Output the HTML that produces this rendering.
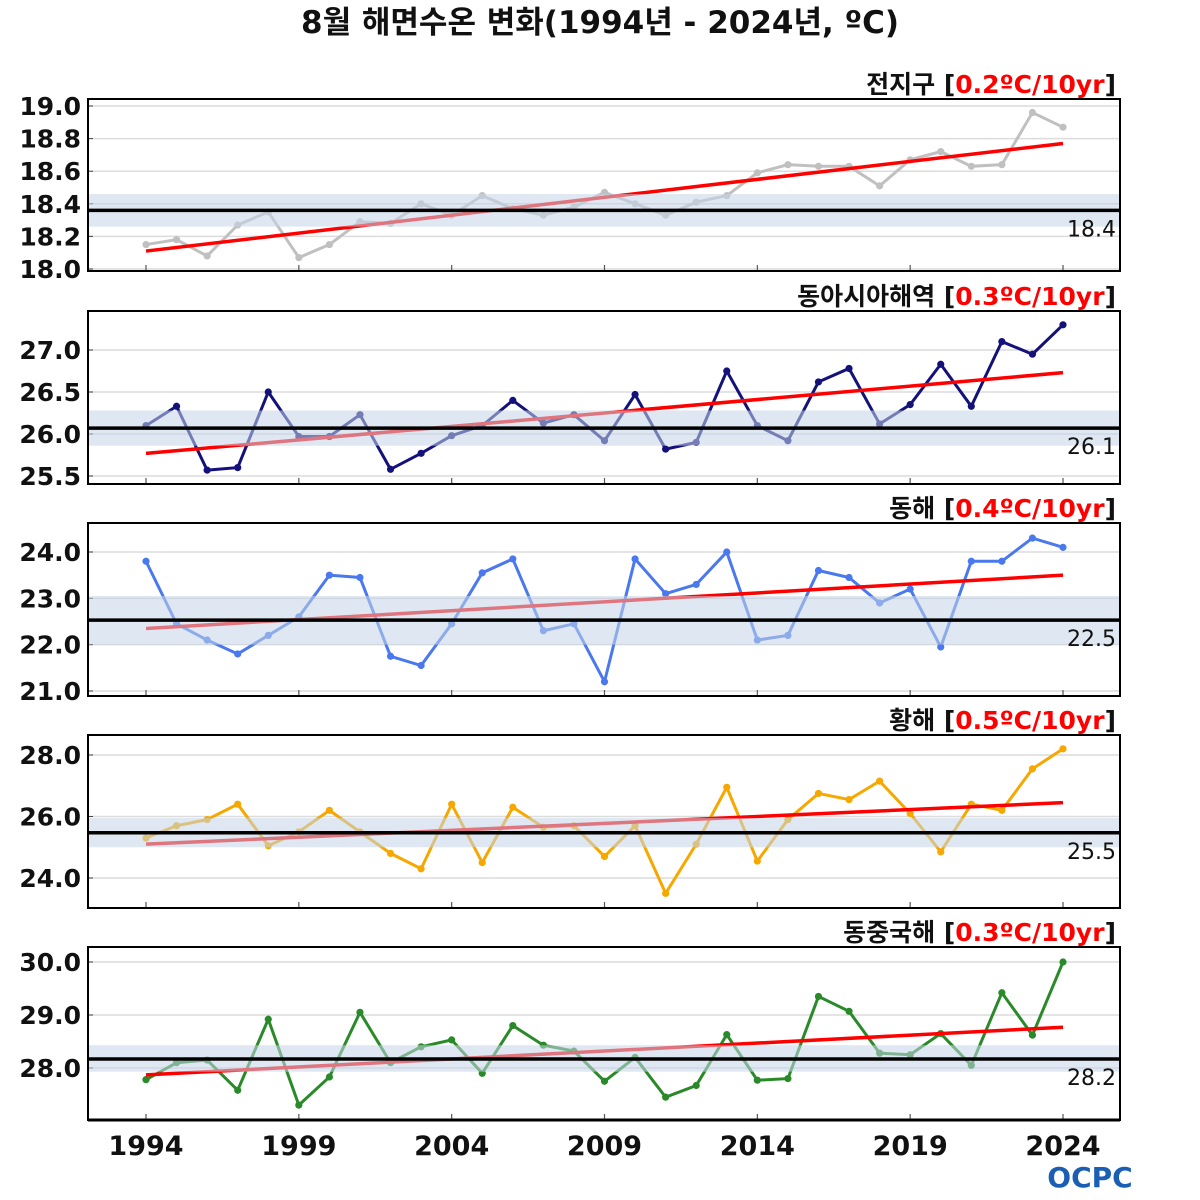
<!DOCTYPE html>
<html><head><meta charset="utf-8">
<style>
body{margin:0;background:#fff;}
svg{display:block;font-family:"DejaVu Sans","Noto Sans CJK KR",sans-serif;}
</style></head>
<body>
<svg id="chart" width="1200" height="1200" viewBox="0 0 1200 1200">
<text x="600" y="33" text-anchor="middle" font-size="31" font-weight="bold" fill="#111">8월 해면수온 변화(1994년 - 2024년, ºC)</text>
<g id="panels"></g>
<text x="1090" y="1187" text-anchor="middle" font-size="28" font-weight="bold" fill="#1a5fb4">OCPC</text>
</svg>
<script>
const years=[1994,1995,1996,1997,1998,1999,2000,2001,2002,2003,2004,2005,2006,2007,2008,2009,2010,2011,2012,2013,2014,2015,2016,2017,2018,2019,2020,2021,2022,2023,2024];
const globalVals=[18.15,18.18,18.08,18.27,18.35,18.07,18.15,18.29,18.28,18.40,18.33,18.45,18.37,18.33,18.38,18.47,18.40,18.33,18.41,18.45,18.59,18.64,18.63,18.63,18.51,18.67,18.72,18.63,18.64,18.96,18.87];
const eastAsiaVals=[26.1,26.33,25.57,25.6,26.5,25.97,25.97,26.23,25.58,25.77,25.98,26.1,26.4,26.13,26.23,25.92,26.47,25.82,25.9,26.75,26.1,25.92,26.62,26.78,26.12,26.35,26.83,26.33,27.1,26.95,27.3];
const eastSeaVals=[23.8,22.45,22.1,21.8,22.2,22.6,23.5,23.45,21.75,21.55,22.45,23.55,23.85,22.3,22.45,21.2,23.85,23.1,23.3,24.0,22.1,22.2,23.6,23.45,22.9,23.2,21.95,23.8,23.8,24.3,24.1];
const yellowSeaVals=[25.3,25.7,25.9,26.4,25.05,25.5,26.2,25.5,24.8,24.3,26.4,24.5,26.3,25.65,25.7,24.7,25.7,23.5,25.1,26.95,24.55,25.9,26.75,26.55,27.15,26.1,24.85,26.4,26.2,27.55,28.2];
const ecsVals=[27.78,28.1,28.15,27.58,28.92,27.3,27.83,29.05,28.1,28.4,28.53,27.9,28.8,28.43,28.32,27.75,28.2,27.45,27.67,28.63,27.77,27.8,29.35,29.07,28.28,28.25,28.65,28.05,29.42,28.62,30.0];
const regionNames=["전지구","동아시아해역","동해","황해","동중국해"];
const trendLabels=["0.2ºC/10yr","0.3ºC/10yr","0.4ºC/10yr","0.5ºC/10yr","0.3ºC/10yr"];
const meanVals=[18.36,26.07,22.53,25.47,28.17];
const meanLabels=["18.4","26.1","22.5","25.5","28.2"];
const bandLow=[18.26,25.86,22.0,25.0,27.93];
const bandHigh=[18.46,26.28,23.05,25.95,28.43];
const trendStart=[18.11,25.77,22.35,25.1,27.87];
const trendEnd=[18.77,26.73,23.5,26.45,28.77];
const yTicks=[[18.0,18.2,18.4,18.6,18.8,19.0],[25.5,26.0,26.5,27.0],[21.0,22.0,23.0,24.0],[24.0,26.0,28.0],[28.0,29.0,30.0]];
const xTicks=[1994,1999,2004,2009,2014,2019,2024];
const series=[globalVals,eastAsiaVals,eastSeaVals,yellowSeaVals,ecsVals];
const colors=["#c0c0c0","#14127a","#4a78ee","#f7a800","#2a8a2a"];
const layout=[
 {top:99,bot:271,cal:[19.0,106,18.0,269]},
 {top:311,bot:484,cal:[27.0,350,25.5,476]},
 {top:523,bot:696,cal:[24.0,552,21.0,691]},
 {top:735,bot:908,cal:[28.0,755,24.0,878]},
 {top:947,bot:1120,cal:[30.0,962,28.0,1068]}];
const L=88,R=1120;
const xs=y=>146+(y-1994)*(1063-146)/30;
const NS="http://www.w3.org/2000/svg";
const root=document.getElementById('panels');
function mk(tag,attrs,parent){const e=document.createElementNS(NS,tag);for(const k in attrs)e.setAttribute(k,attrs[k]);(parent||root).appendChild(e);return e;}
series.forEach((vals,i)=>{
  const lay=layout[i];const c=lay.cal;
  const ys=v=>c[1]+(v-c[0])*(c[3]-c[1])/(c[2]-c[0]);
  const g=mk('g',{});
  
  
  yTicks[i].forEach(t=>{
    const gl=mk('line',{x1:L,x2:R,y1:ys(t),y2:ys(t),stroke:'#dcdcdc','stroke-width':1.5},g);
    
    
    mk('line',{x1:L,x2:L+5,y1:ys(t),y2:ys(t),stroke:'#444','stroke-width':1},g);
    const tl=mk('text',{x:81,y:ys(t)+9,'text-anchor':'end','font-size':25,'font-weight':'bold',fill:'#111'},g);
    tl.textContent=t.toFixed(1);
    
    
  });
  xTicks.forEach(t=>{mk('line',{x1:xs(t),x2:xs(t),y1:lay.bot-6,y2:lay.bot,stroke:'#555','stroke-width':1.2},g);});
  const pts=vals.map((v,k)=>xs(years[k])+','+ys(v)).join(' ');
  const pl=mk('polyline',{points:pts,fill:'none',stroke:colors[i],'stroke-width':3},g);
  
  
  vals.forEach((v,k)=>{
    const p=mk('circle',{cx:xs(years[k]),cy:ys(v),r:3.6,fill:colors[i]},g);
    
    
  });
  const tr=mk('line',{x1:xs(1994),x2:xs(2024),y1:ys(trendStart[i]),y2:ys(trendEnd[i]),stroke:'#f00','stroke-width':3.5},g);
  
  
  const band=mk('rect',{x:L,width:R-L,y:ys(bandHigh[i]),height:ys(bandLow[i])-ys(bandHigh[i]),fill:'rgba(196,214,232,0.55)'},g);
  
  
  const ml=mk('line',{x1:L,x2:R,y1:ys(meanVals[i]),y2:ys(meanVals[i]),stroke:'#000','stroke-width':3.5},g);
  
  
  const mt=mk('text',{x:1116,y:ys(meanVals[i])+26,'text-anchor':'end','font-size':22,fill:'#111'},g);
  mt.textContent=meanLabels[i];
  
  
  const fr=mk('rect',{x:L,y:lay.top,width:R-L,height:lay.bot-lay.top,fill:'none',stroke:'#000','stroke-width':2},g);
  
  
  const tt=mk('text',{x:1116,y:lay.top-6,'text-anchor':'end','font-size':25,'font-weight':'bold',fill:'#111'},g);
  
  
  const s1=mk('tspan',{},tt);s1.textContent=regionNames[i]+' [';
  const s2=mk('tspan',{fill:'#f00'},tt);s2.textContent=trendLabels[i];
  const s3=mk('tspan',{},tt);s3.textContent=']';
});
mk('line',{x1:L,x2:R,y1:1120,y2:1120,stroke:'#000','stroke-width':3});
xTicks.forEach(t=>{
  const xl=mk('text',{x:xs(t),y:1155,'text-anchor':'middle','font-size':27,'font-weight':'bold',fill:'#111'});
  xl.textContent=t;
  
  
});
</script>
</body></html>
